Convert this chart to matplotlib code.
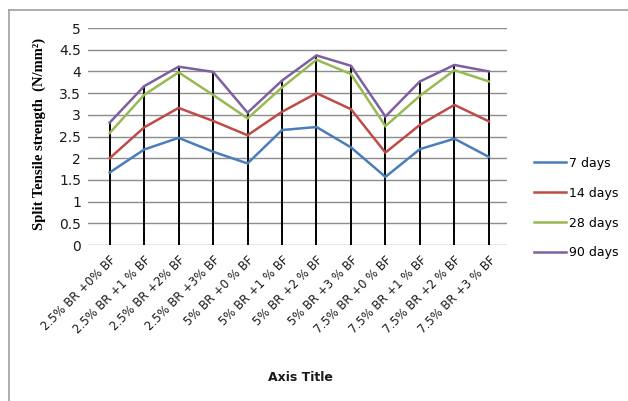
import matplotlib
matplotlib.use("Agg")
import matplotlib.pyplot as plt
from matplotlib.lines import Line2D

categories = ["2.5% BR +0% BF", "2.5% BR +1 % BF", "2.5% BR +2% BF", "2.5% BR +3% BF",
              "5% BR +0 % BF", "5% BR +1 % BF", "5% BR +2 % BF", "5% BR +3 % BF",
              "7.5% BR +0 % BF", "7.5% BR +1 % BF", "7.5% BR +2 % BF", "7.5% BR +3 % BF"]
days_7 = [1.67, 2.20, 2.47, 2.15, 1.88, 2.65, 2.72, 2.25, 1.57, 2.21, 2.45, 2.03]
days_14 = [2.00, 2.71, 3.16, 2.86, 2.53, 3.07, 3.50, 3.13, 2.13, 2.77, 3.23, 2.85]
days_28 = [2.58, 3.46, 3.98, 3.46, 2.92, 3.63, 4.27, 3.94, 2.74, 3.44, 4.03, 3.77]
days_90 = [2.82, 3.66, 4.11, 3.99, 3.05, 3.79, 4.37, 4.13, 2.96, 3.77, 4.15, 4.00]
series_names = ["7 days", "14 days", "28 days", "90 days"]
colors = ["#4A7EBB", "#BE4B48", "#98B954", "#7D60A0"]
y_ticks = [0, 0.5, 1, 1.5, 2, 2.5, 3, 3.5, 4, 4.5, 5]

fig = plt.figure(figsize=(6.28, 4.01), dpi=100)
fig.patch.set_facecolor("white")
ax = fig.add_axes([0.140, 0.389, 0.667, 0.541])

x = list(range(len(categories)))
series = [days_7, days_14, days_28, days_90]

# horizontal gridlines
for t in y_ticks:
    ax.axhline(t, color="#8c8c8c", lw=1.0, zorder=1)

# drop lines from the highest series down to the axis
top = [max(v) for v in zip(*series)]
ax.vlines(x, 0, top, colors="black", lw=1.4, zorder=2)

for vals, c, n in zip(series, colors, series_names):
    ax.plot(x, vals, color=c, lw=1.8, label=n, zorder=3, solid_joinstyle="miter")

ax.set_xlim(-0.63, 11.52)
ax.set_ylim(0, 5)
ax.set_yticks(y_ticks)
ax.set_yticklabels(["0", "0.5", "1", "1.5", "2", "2.5", "3", "3.5", "4", "4.5", "5"],
                   fontsize=10, color="#1a1a1a")
ax.set_xticks(x)
ax.set_xticklabels(categories, rotation=45, ha="right", rotation_mode="anchor",
                   fontsize=8.4, color="#1a1a1a")
ax.tick_params(axis="both", length=0, pad=5)
ax.tick_params(axis="x", pad=6)
for s in ax.spines.values():
    s.set_visible(False)

fig.text(0.062, 0.665, "Split Tensile strength  (N/mm²)", rotation=90, ha="center", va="center",
         fontsize=10.5, fontweight="bold", family="Liberation Serif")
fig.text(0.478, 0.058, "Axis Title", ha="center", va="center", fontsize=9,
         fontweight="bold", color="#1a1a1a")

handles = [Line2D([0], [0], color=c, lw=1.8) for c in colors]
fig.legend(handles, series_names, loc="upper left", bbox_to_anchor=(0.832, 0.637),
           frameon=False, fontsize=9, handlelength=2.6, handletextpad=0.2,
           labelspacing=1.35)

# outer chart frame
fig.add_artist(Line2D([0.015, 1.0], [0.975, 0.975], transform=fig.transFigure,
                      color="#a0a0a0", lw=1.2))
fig.add_artist(Line2D([0.015, 0.015], [0.0, 0.975], transform=fig.transFigure,
                      color="#a0a0a0", lw=1.2))

fig.savefig("out.png", dpi=100)
